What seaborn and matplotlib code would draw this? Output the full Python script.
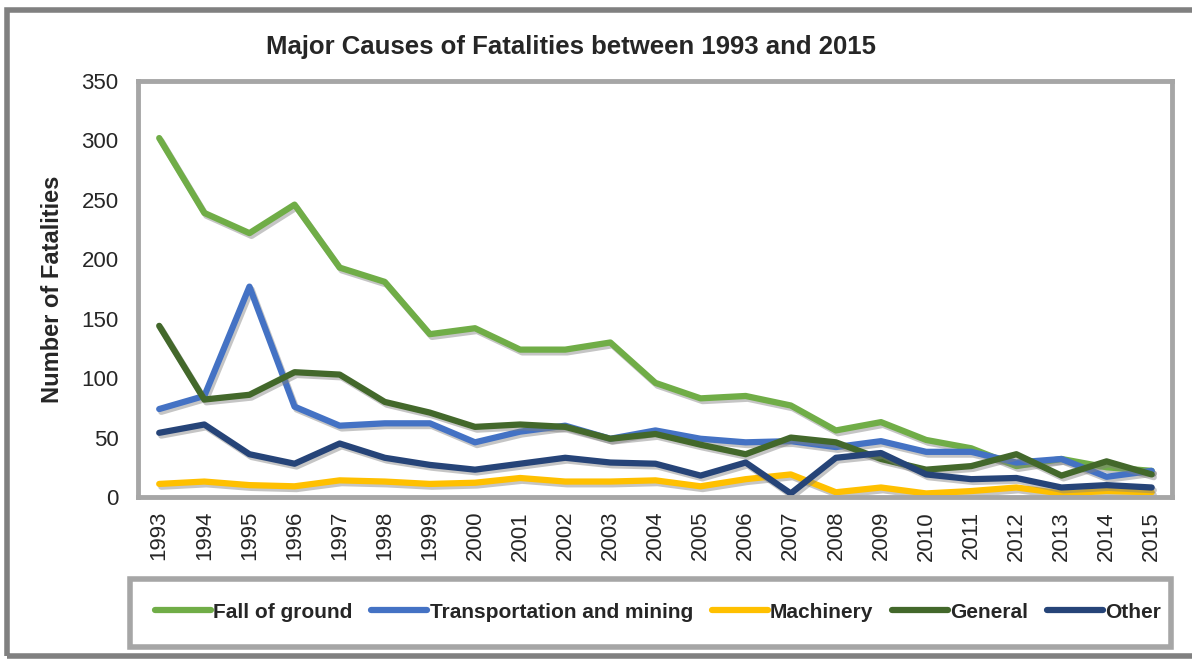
import pandas as pd
import matplotlib.pyplot as plt
import matplotlib.patheffects as pe
from matplotlib.patches import Rectangle
import seaborn as sns

years = list(range(1993, 2016))

fall_of_ground = [302, 239, 222, 246, 193, 181, 137, 142, 124, 124, 130, 96,
                  83, 85, 77, 56, 63, 48, 41, 26, 32, 25, 22]
transportation = [74, 85, 177, 76, 60, 62, 62, 46, 55, 60, 49, 56,
                  49, 46, 47, 42, 47, 38, 38, 29, 32, 17, 22]
machinery = [11, 13, 10, 9, 14, 13, 11, 12, 16, 13, 13, 14,
             9, 15, 19, 4, 8, 3, 5, 8, 3, 5, 4]
general = [144, 82, 86, 105, 103, 80, 71, 59, 61, 59, 49, 53,
           44, 36, 50, 46, 32, 23, 26, 36, 18, 30, 19]
other = [54, 61, 36, 28, 45, 33, 27, 23, 28, 33, 29, 28,
         18, 29, 3, 33, 37, 19, 15, 16, 8, 10, 8]

series_names = ["Fall of ground", "Transportation and mining", "Machinery",
                "General", "Other"]
colors = ["#70AD47", "#4472C4", "#FFC000", "#43682B", "#264478"]

# long-form table for seaborn
df = pd.DataFrame({
    "Year": years * 5,
    "Fatalities": fall_of_ground + transportation + machinery + general + other,
    "Cause": [n for n in series_names for _ in years],
})

sns.set_style("white")
plt.rcParams["font.family"] = ["Liberation Sans", "DejaVu Sans"]

fig = plt.figure(figsize=(11.92, 6.6), dpi=100)
ax = fig.add_axes([138 / 1192, 1 - 497 / 660, 1034 / 1192, 416 / 660])

sns.lineplot(data=df, x="Year", y="Fatalities", hue="Cause",
             hue_order=series_names, palette=dict(zip(series_names, colors)),
             linewidth=4.5, ax=ax, legend=False)

shadow = [pe.SimpleLineShadow(offset=(1.5, -2), shadow_color="gray", alpha=0.45),
          pe.Normal()]
for line in ax.get_lines():
    line.set_path_effects(shadow)
    line.set_solid_capstyle("round")
    line.set_solid_joinstyle("round")

ax.set_xlim(1992.53, 2015.45)
ax.set_ylim(0, 350)
ax.set_yticks(range(0, 351, 50))
ax.set_xticks(years)
ax.set_xticklabels([str(y) for y in years], rotation=90)
ax.tick_params(axis="both", labelsize=16, length=0)
ax.tick_params(axis="y", pad=14)
ax.tick_params(axis="x", pad=10)
for sp in ax.spines.values():
    sp.set_color("#A6A6A6")
    sp.set_linewidth(3.5)

ax.set_xlabel(None)
ax.set_ylabel("Number of Fatalities", fontsize=17, fontweight="bold")
ax.yaxis.set_label_coords(-0.072, 0.5)

fig.text(571 / 1192, 1 - 47 / 660, "Major Causes of Fatalities between 1993 and 2015",
         ha="center", va="center", fontsize=18.5, fontweight="bold")

# outer chart border
fig.patches.append(Rectangle((7 / 1192, 4 / 660), 1.2, 1 - 14 / 660,
                             transform=fig.transFigure, fill=False,
                             edgecolor="#808080", linewidth=4))

# legend box
fig.patches.append(Rectangle((130 / 1192, 1 - 647 / 660), 1041 / 1192, 68 / 660,
                             transform=fig.transFigure, fill=False,
                             edgecolor="#A6A6A6", linewidth=4))
handles = ax.get_lines()[:5]
leg = fig.legend(handles, series_names, loc="center",
                 bbox_to_anchor=(658 / 1192, 1 - 612 / 660), ncol=5,
                 frameon=False, handlelength=2.7, handletextpad=0.1,
                 columnspacing=0.9,
                 prop={"weight": "bold", "size": 15})
for h in leg.legend_handles:
    h.set_linewidth(4.5)
    h.set_path_effects([])
    h.set_solid_capstyle("round")

fig.savefig("out.png", dpi=100)
